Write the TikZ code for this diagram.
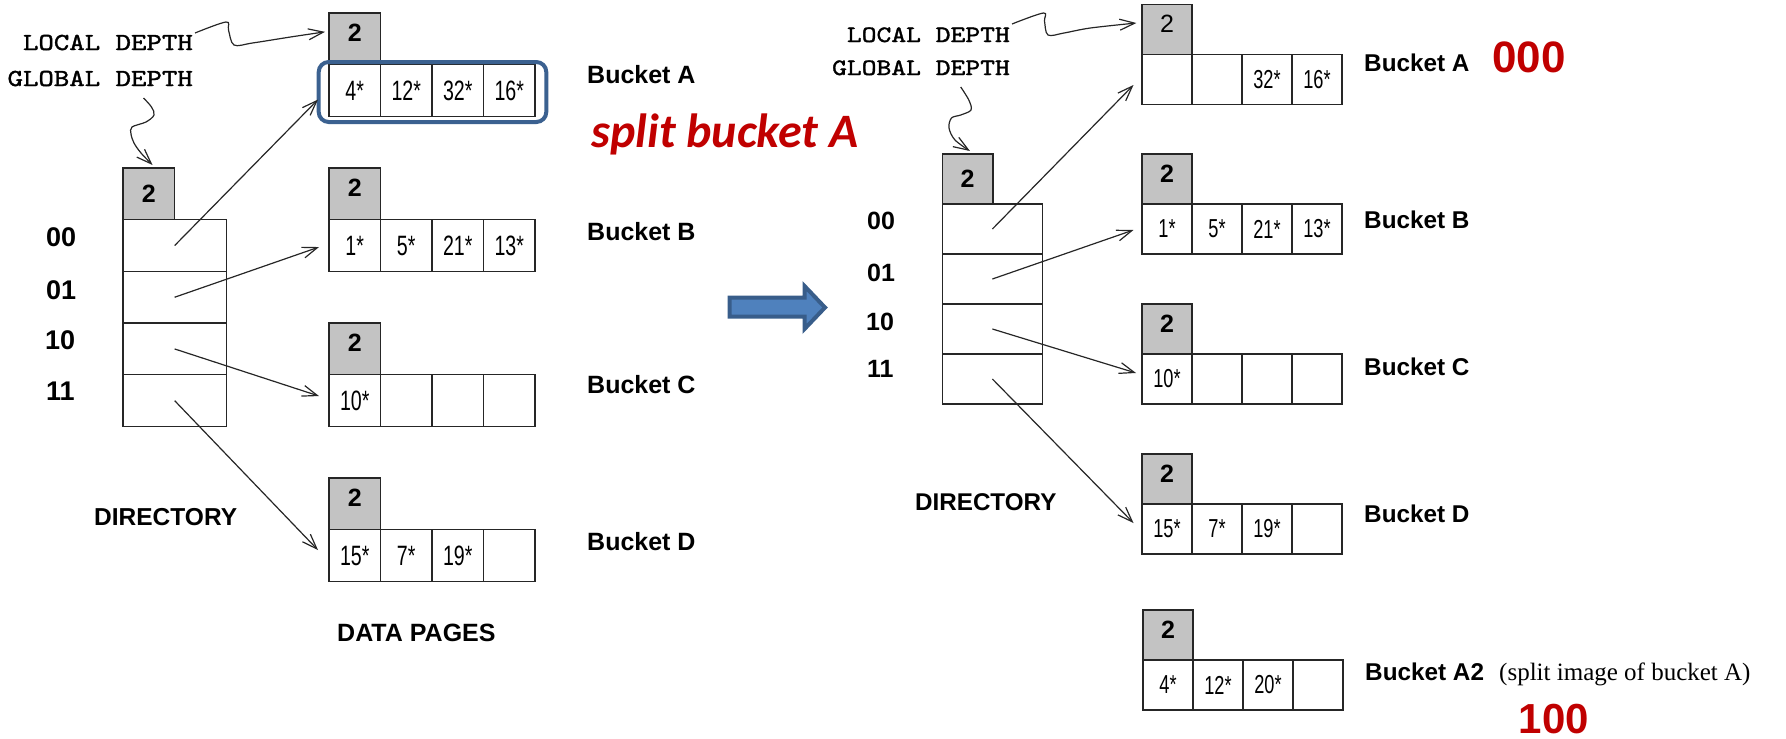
\documentclass[tikz,border=0pt]{standalone}
\usepackage{fontspec}
\setmainfont{Liberation Sans}
\newfontfamily\narrowsans[FakeStretch=0.7]{Liberation Sans}
\newfontfamily\typefont[FakeStretch=1.2,FakeBold=1.5]{lmmono10-regular.otf}
\newfontfamily\slidefont{Carlito}
\newfontfamily\seriffont{Liberation Serif}
\usetikzlibrary{arrows.meta}

\definecolor{depthgray}{HTML}{C3C3C3}
\definecolor{framecol}{HTML}{3B6190}
\definecolor{redtxt}{HTML}{C00000}
\definecolor{arrowfill}{HTML}{4F81BD}
\definecolor{arrowline}{HTML}{385D8A}

\tikzset{
  framed/.style={draw=black!85, line width=1.3pt, inner sep=0pt, outer sep=0pt,
    minimum width=\cw, minimum height=\ch},
  pagecell/.style={framed, font=\narrowsans\fontsize{\cf}{\cf}\selectfont},
  depthcell/.style={framed, fill=depthgray, font=\bfseries\fontsize{25}{25}\selectfont,
    text height=18pt, text depth=12pt},
  dirdepth/.style={framed, fill=depthgray, font=\bfseries\fontsize{25}{25}\selectfont},
  dirrow/.style={framed, minimum width=\dw},
  bucketlbl/.style={inner sep=0pt, anchor=base west, font=\bfseries\fontsize{25}{25}\selectfont},
  slotlbl/.style={inner sep=0pt, anchor=west, font=\bfseries\fontsize{27}{27}\selectfont},
  monolbl/.style={inner sep=0pt, anchor=base east, font=\typefont\fontsize{24.5}{24.5}\selectfont},
  caption/.style={inner sep=0pt, anchor=base west, font=\bfseries\fontsize{24.5}{24.5}\selectfont},
  ptr/.style={draw=black!85, line width=1.2pt,
    -{Straight Barb[length=15pt,width=11pt,line width=1.2pt]}},
  redbig/.style={inner sep=0pt, text=redtxt, font=\bfseries\fontsize{44}{44}\selectfont},
}

% one bucket: name, x, y of depth box top, depth, four entries
\newcommand\bucket[8]{%
  \node[depthcell,anchor=north west] (#1-d) at (#2,#3) {#4};
  \node[pagecell,anchor=north west] (#1-1) at (#2,#3+\ch) {#5};
  \node[pagecell,anchor=west] (#1-2) at (#1-1.east) {#6};
  \node[pagecell,anchor=west] (#1-3) at (#1-2.east) {#7};
  \node[pagecell,anchor=west] (#1-4) at (#1-3.east) {#8};
}

\begin{document}
\begin{tikzpicture}[x=1pt,y=-1pt]
\useasboundingbox (0,0) rectangle (1786,739);

% ---------------- before the split ----------------
\def\cw{51.5}\def\ch{51.7}\def\dw{103.3}\def\cf{28}
\bucket{la}{329}{13}{2}{4*}{12*}{32*}{16*}
\bucket{lb}{329}{168}{2}{1*}{5*}{21*}{13*}
\bucket{lc}{329}{323}{2}{10*}{}{}{}
\bucket{ld}{329}{478}{2}{15*}{7*}{19*}{}

\node[dirdepth,anchor=north west] (dl-d) at (123,168) {2};
\node[dirrow,anchor=north west] (dl-0) at (123,219.7) {};
\node[dirrow,anchor=north] (dl-1) at (dl-0.south) {};
\node[dirrow,anchor=north] (dl-2) at (dl-1.south) {};
\node[dirrow,anchor=north] (dl-3) at (dl-2.south) {};

\node[slotlbl] (sl0) at (46,237) {00};
\node[slotlbl] (sl1) at (46,290) {01};
\node[slotlbl] (sl2) at (45,340) {10};
\node[slotlbl] (sl3) at (46,391) {11};

\node[monolbl] (locl) at (193,50) {LOCAL DEPTH};
\node[monolbl] (globl) at (193,86) {GLOBAL DEPTH};

\node[bucketlbl] (nla) at (587,83) {Bucket A};
\node[bucketlbl] (nlb) at (587,240) {Bucket B};
\node[bucketlbl] (nlc) at (587,393) {Bucket C};
\node[bucketlbl] (nld) at (587,550) {Bucket D};

\node[caption] (dirl) at (94,525) {DIRECTORY};
\node[caption,font=\bfseries\fontsize{25}{25}\selectfont] (pages) at (337,641) {DATA PAGES};

% bucket about to be split
\draw[framecol, line width=4pt, rounded corners=10pt] (318.7,62) rectangle (546.3,122);
\node[inner sep=0pt, anchor=base west, text=redtxt,
  font=\slidefont\bfseries\itshape\fontsize{48}{48}\selectfont] (split) at (591,147) {split bucket A};

% directory pointers
\draw[ptr] (dl-0.center) -- ([shift={(-11,9)}]la-1.west);
\draw[ptr] (dl-1.center) -- ([shift={(-10,1.5)}]lb-1.west);
\draw[ptr] (dl-2.center) -- ([shift={(-10,-4.5)}]lc-1.west);
\draw[ptr] (dl-3.center) -- ([shift={(-11,-5.5)}]ld-1.west);

% depth annotations
\draw[ptr] plot[smooth, tension=0.55] coordinates {([shift={(2,-17)}]locl.base east) (226,22) (228.5,30) (234,45) (252.5,43) (290.5,37) ([shift={(-4,-7)}]la-d.west)};
\draw[ptr] plot[smooth, tension=0.55] coordinates {([shift={(-49.5,12)}]globl.base east) (151.5,107) (154,115) (146,122) (132,127) (131,134) (134,143) (141,153) ([shift={(3.8,-3)}]dl-d.north)};

% ---------------- transition ----------------
\draw[arrowline, fill=arrowfill, line width=4pt, line join=miter]
  (729.5,297.5) -- (804.5,297.5) -- (804.5,286) -- (825,307.5) -- (804.5,329)
  -- (804.5,316.5) -- (729.5,316.5) -- cycle;

% ---------------- after the split ----------------
\def\cw{50}\def\ch{50}\def\dw{100}\def\cf{26}
\bucket{ra}{1142}{4.5}{\mdseries 2}{}{}{32*}{16*}
\bucket{rb}{1142}{154}{2}{1*}{5*}{21*}{13*}
\bucket{rc}{1142}{304}{2}{10*}{}{}{}
\bucket{rd}{1142}{454}{2}{15*}{7*}{19*}{}
\bucket{re}{1143}{610}{2}{4*}{12*}{20*}{}

\node[dirdepth,anchor=north west,minimum width=50.5] (dr-d) at (942.4,154) {2};
\node[dirrow,anchor=north west] (dr-0) at (942.4,204) {};
\node[dirrow,anchor=north] (dr-1) at (dr-0.south) {};
\node[dirrow,anchor=north] (dr-2) at (dr-1.south) {};
\node[dirrow,anchor=north] (dr-3) at (dr-2.south) {};

\node[slotlbl,font=\bfseries\fontsize{25}{25}\selectfont] (sr0) at (867,221) {00};
\node[slotlbl,font=\bfseries\fontsize{25}{25}\selectfont] (sr1) at (867,273) {01};
\node[slotlbl,font=\bfseries\fontsize{25}{25}\selectfont] (sr2) at (866,322) {10};
\node[slotlbl,font=\bfseries\fontsize{25}{25}\selectfont] (sr3) at (867,369) {11};

\node[monolbl,font=\typefont\fontsize{23.5}{23.5}\selectfont] (locr) at (1010,42) {LOCAL DEPTH};
\node[monolbl,font=\typefont\fontsize{23.5}{23.5}\selectfont] (globr) at (1010,75) {GLOBAL DEPTH};

\node[bucketlbl,font=\bfseries\fontsize{24.3}{24.3}\selectfont] (nra) at (1364,71) {Bucket A};
\node[bucketlbl,font=\bfseries\fontsize{24.3}{24.3}\selectfont] (nrb) at (1364,228) {Bucket B};
\node[bucketlbl,font=\bfseries\fontsize{24.3}{24.3}\selectfont] (nrc) at (1364,375) {Bucket C};
\node[bucketlbl,font=\bfseries\fontsize{24.3}{24.3}\selectfont] (nrd) at (1364,522) {Bucket D};
\node[bucketlbl,font=\bfseries\fontsize{24.3}{24.3}\selectfont] (nre) at (1365,680) {Bucket A2};
\node[inner sep=0pt, anchor=base west, font=\seriffont\fontsize{25}{25}\selectfont] (note) at (1499,680) {(split image of bucket A)};

\node[caption,font=\bfseries\fontsize{24.2}{24.2}\selectfont] (dirr) at (915,510) {DIRECTORY};

\node[redbig, anchor=base west] (bitsa) at (1492,72) {000};
\node[redbig, anchor=base, font=\bfseries\fontsize{42}{42}\selectfont] (bitsb) at (1554,733) {100};

% directory pointers
\draw[ptr] (dr-0.center) -- ([shift={(-8.5,5.5)}]ra-1.west);
\draw[ptr] (dr-1.center) -- ([shift={(-8.5,1)}]rb-1.west);
\draw[ptr] (dr-2.center) -- ([shift={(-6,-6)}]rc-1.west);
\draw[ptr] (dr-3.center) -- ([shift={(-8.5,-6)}]rd-1.west);

% depth annotations
\draw[ptr] plot[smooth, tension=0.55] coordinates {([shift={(2,-18)}]locr.base east) (1043.4,13) (1044.5,21) (1048,35) (1064,33) (1090.4,28) ([shift={(-5.6,-6.5)}]ra-d.west)};
\draw[ptr] plot[smooth, tension=0.55] coordinates {([shift={(-49.3,12)}]globr.base east) (968.8,100) (971,110) (960.7,115) (951.5,118) (949,128) (955,140) ([shift={(2.3,-3)}]dr-d.north)};
\end{tikzpicture}
\end{document}
